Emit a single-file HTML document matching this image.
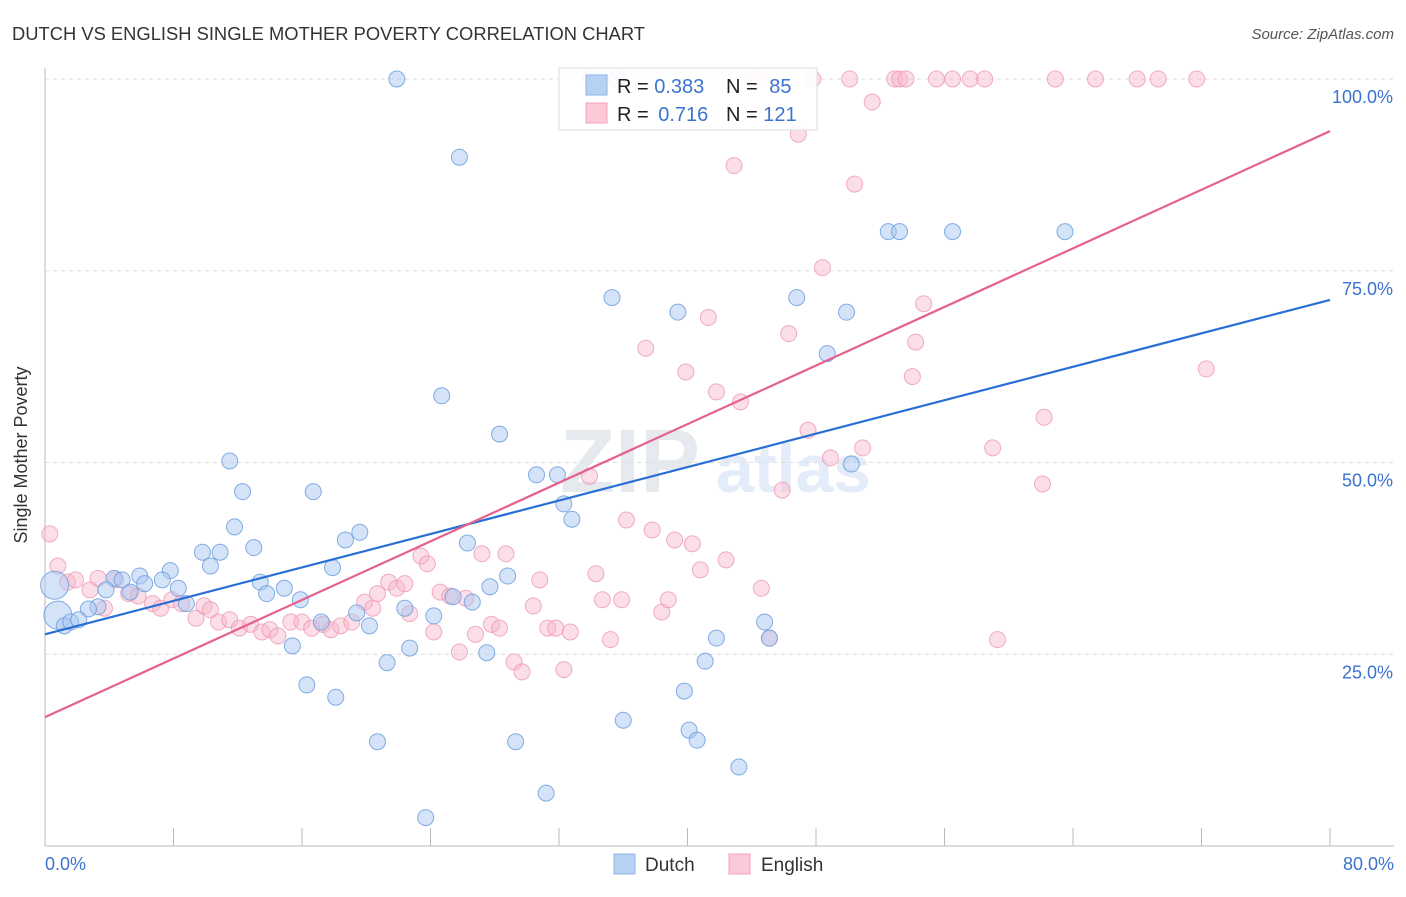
<!DOCTYPE html>
<html><head><meta charset="utf-8"><style>
body{margin:0;background:#fff;font-family:"Liberation Sans",sans-serif;}
svg text{font-family:"Liberation Sans",sans-serif;}
</style></head><body>
<svg id="chart" width="1406" height="892">
<text x="12" y="40" font-size="18" fill="#333" textLength="633" lengthAdjust="spacingAndGlyphs">DUTCH VS ENGLISH SINGLE MOTHER POVERTY CORRELATION CHART</text>
<text x="1394" y="39" font-size="15" fill="#555" font-style="italic" text-anchor="end">Source: ZipAtlas.com</text>
<text x="560" y="492" font-size="90" fill="#e6eaef" font-weight="bold" font-family="Liberation Serif">ZIP</text>
<text x="716" y="492" font-size="68" fill="#e3ecf8" font-weight="bold">atlas</text>
<g id="grid"></g><g id="pts"></g><g id="lines"></g>
<text x="27" y="455" font-size="18" fill="#333" text-anchor="middle" transform="rotate(-90 27 455)">Single Mother Poverty</text>
<text x="45" y="870" font-size="18" fill="#3b73d0">0.0%</text>
<text x="1394" y="870" font-size="18" fill="#3b73d0" text-anchor="end">80.0%</text>
<g>
<rect x="559" y="68" width="258" height="62" fill="#fff" fill-opacity="0.9" stroke="#ddd"/>
<rect x="586" y="75" width="21" height="20" fill="#b7d1f3" stroke="#8fb3e6"/>
<rect x="586" y="103" width="21" height="20" fill="#fbc9d7" stroke="#f0a3ba"/>
<text x="617" y="93" font-size="20" fill="#222">R = <tspan fill="#3b73d0">0.383</tspan></text>
<text x="726" y="93" font-size="20" fill="#222">N = <tspan fill="#3b73d0" dx="6">85</tspan></text>
<text x="617" y="121" font-size="20" fill="#222">R = <tspan fill="#3b73d0" dx="4">0.716</tspan></text>
<text x="726" y="121" font-size="20" fill="#222">N = <tspan fill="#3b73d0">121</tspan></text>
</g>
<g>
<rect x="614" y="854" width="21" height="20" fill="#b7d1f3" stroke="#8fb3e6"/>
<text x="645" y="871" font-size="19" fill="#333">Dutch</text>
<rect x="729" y="854" width="21" height="20" fill="#fbc9d7" stroke="#f0a3ba"/>
<text x="761" y="871" font-size="19" fill="#333">English</text>
</g>
</svg>
<script>
const yTicks=[25,50,75,100];
const xTicks=[0,8,16,24,32,40,48,56,64,72,80];
const dutchX=[21.9,25.8,52.5,53.2,56.5,63.5,35.3,39.4,46.8,49.9,48.7,24.7,28.3,11.5,30.6,31.9,50.2,12.3,16.7,32.3,32.8,11.8,19.6,18.7,26.3,13.0,9.8,10.9,10.3,17.9,7.8,5.9,4.3,4.8,7.3,6.2,13.4,8.3,14.9,13.8,5.3,3.8,27.7,28.8,15.9,8.8,3.3,2.7,22.4,24.2,19.4,25.4,17.2,20.2,44.8,15.4,22.7,26.6,27.5,41.8,45.1,41.1,21.3,16.3,18.1,39.8,36.0,40.1,40.6,20.7,29.3,43.2,31.2,23.7,0.6,0.8,1.2,1.6,2.1,34.0,35.6];
const dutchY=[100,89.8,80.1,80.1,80.1,80.1,71.5,69.6,71.5,69.6,64.2,58.7,53.7,50.2,48.4,48.4,49.8,46.2,46.2,44.6,42.6,41.6,40.9,39.9,39.5,38.9,38.3,38.3,36.5,36.3,35.9,35.2,34.9,34.7,34.7,34.2,34.4,33.6,33.6,32.9,33.1,33.4,33.8,35.2,32.1,31.6,31.2,30.9,31.0,30.0,30.4,32.5,29.2,28.7,29.2,26.1,25.8,31.8,25.2,27.1,27.1,24.1,23.9,21.0,19.4,20.2,16.4,15.1,13.8,13.6,13.6,10.3,6.9,3.7,34.0,30.1,28.7,29.2,29.5,100,100];
const englishX=[0.3,0.8,1.4,1.9,2.8,3.3,3.7,4.4,5.2,5.8,6.7,7.2,7.9,8.5,9.4,9.9,10.3,10.8,11.5,12.1,12.8,13.5,14.0,14.5,15.3,16.0,16.6,17.3,17.8,18.4,19.1,19.9,20.4,20.7,21.4,21.9,22.4,22.7,23.4,23.8,24.2,24.6,25.2,25.8,26.2,26.8,27.2,27.8,28.3,28.7,29.2,29.7,30.4,30.8,31.3,31.8,32.3,32.7,33.9,34.3,34.7,35.2,35.9,36.2,37.4,37.8,38.4,38.8,39.2,39.9,40.3,40.8,41.3,41.8,42.4,42.9,43.3,44.6,45.9,46.3,46.9,47.5,48.4,48.9,50.4,50.9,51.5,54.2,54.7,54.0,59.0,59.3,62.1,62.2,72.3,44.0,44.4,47.8,50.1,52.9,53.2,53.6,55.5,56.5,57.6,58.5,62.9,65.4,68.0,69.3,71.7,45.1];
const englishY=[40.7,36.5,34.4,34.7,33.4,34.9,31.0,34.7,32.9,32.6,31.6,31.0,32.1,31.6,29.7,31.3,30.8,29.2,29.5,28.4,28.9,27.9,28.2,27.4,29.2,29.2,28.4,28.9,28.2,28.7,29.2,31.8,31.0,32.9,34.4,33.6,34.2,30.3,37.8,36.8,27.9,33.1,32.6,25.3,32.3,27.6,38.1,28.9,28.4,38.1,24.0,22.7,31.3,34.7,28.4,28.4,23.0,27.9,48.2,35.5,32.1,26.9,32.1,42.5,64.9,41.2,30.5,32.1,39.9,61.8,39.4,36.0,68.9,59.2,37.3,88.7,57.9,33.6,46.4,66.8,92.8,54.2,75.4,50.6,86.3,51.9,97.0,65.7,70.7,61.2,51.9,26.9,47.2,55.9,62.2,100,100,100,100,100,100,100,100,100,100,100,100,100,100,100,100,27.1];
const dutchLine=[27.6,71.2];
const englishLine=[16.8,93.2];
const NS="http://www.w3.org/2000/svg";
const X=v=>45+v/80*1285;
const Y=v=>846-v/100*767;
function mk(tag,attrs,parent){const e=document.createElementNS(NS,tag);for(const k in attrs)e.setAttribute(k,attrs[k]);parent.appendChild(e);return e;}
const grid=document.getElementById('grid');
yTicks.forEach(t=>{
 const l=mk('line',{x1:45,x2:1394,y1:Y(t),y2:Y(t),stroke:'#ddd','stroke-dasharray':'4,4'},grid);
 
 
 const tx=mk('text',{x:1393,y:Y(t)+24,'font-size':18,fill:'#3b73d0','text-anchor':'end'},grid);
 tx.textContent=t.toFixed(1)+'%';
 
 
});
const ax=mk('line',{x1:45,x2:45,y1:68,y2:846,stroke:'#bbb'},grid);


const bx=mk('line',{x1:45,x2:1394,y1:846,y2:846,stroke:'#bbb'},grid);


xTicks.forEach(t=>{
 const l=mk('line',{x1:X(t),x2:X(t),y1:828,y2:846,stroke:'#bbb'},grid);
 
 
});
const pts=document.getElementById('pts');
englishX.forEach((v,i)=>{
 const c=mk('circle',{cx:X(v),cy:Y(englishY[i]),r:8,fill:'#f7b6ca','fill-opacity':0.45,stroke:'#ee9ab4','stroke-opacity':0.8},pts);
 
 
});
dutchX.forEach((v,i)=>{
 const big=(i==74||i==75);
 const c=mk('circle',{cx:X(v),cy:Y(dutchY[i]),r:big?14:8,fill:'#a9c7f0','fill-opacity':0.5,stroke:'#6d9fe0','stroke-opacity':0.85},pts);
 
 
});
const lines=document.getElementById('lines');
const l1=mk('line',{x1:X(0),y1:Y(dutchLine[0]),x2:X(80),y2:Y(dutchLine[1]),stroke:'#2a6fd6','stroke-width':2.2},lines);


const l2=mk('line',{x1:X(0),y1:Y(englishLine[0]),x2:X(80),y2:Y(englishLine[1]),stroke:'#e5608a','stroke-width':2.2},lines);


</script>
</body></html>
